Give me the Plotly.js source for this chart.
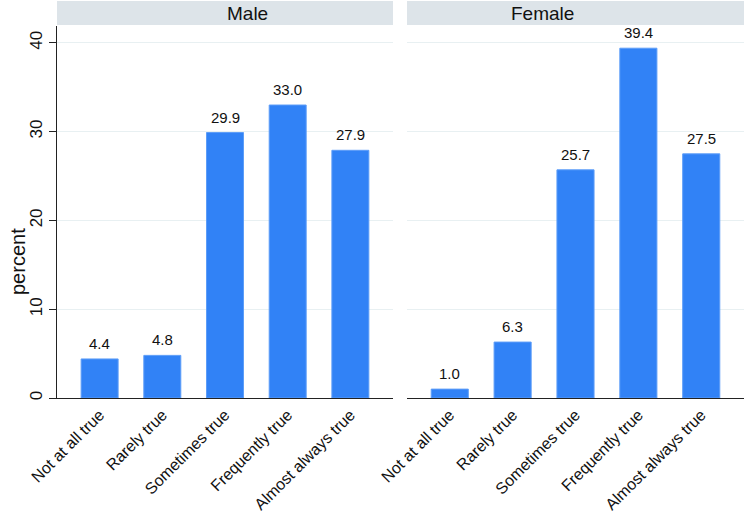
<!DOCTYPE html>
<html>
<head>
<meta charset="utf-8">
<script src="https://cdn.plot.ly/plotly-3.0.1.min.js"></script>
<style>
  html, body { margin: 0; padding: 0; background: #ffffff; }
  #chart { width: 747px; height: 514px; }
</style>
</head>
<body>
<div id="chart"></div>
<script>
// Response categories shared by both panels
const categories = ["Not at all true", "Rarely true", "Sometimes true", "Frequently true", "Almost always true"];
// Percent of respondents in each category
const maleValues = [4.4, 4.8, 29.9, 33.0, 27.9];
const femaleValues = [1.0, 6.3, 25.7, 39.4, 27.5];
const panelTitles = ["Male", "Female"];
const yTicks = [0, 10, 20, 30, 40];
const yTitle = "percent";

const FONT = "Liberation Sans, Arial, Helvetica, sans-serif";
const barColor = "#3182f6";
const barEdge = "#5d9df8";

function barTrace(values, xa, ya) {
  return {
    type: "bar",
    x: categories,
    y: values,
    xaxis: xa,
    yaxis: ya,
    width: 0.59,
    marker: { color: barColor, line: { color: barEdge, width: 1 } },
    hoverinfo: "x+y",
    showlegend: false
  };
}

// Value labels sit a little above each bar top
function valueLabels(values, xa, ya) {
  return values.map((v, i) => ({
    xref: xa, yref: ya,
    x: categories[i], y: v,
    text: v.toFixed(1),
    showarrow: false,
    yanchor: "bottom",
    yshift: 5,
    font: { family: FONT, size: 15, color: "#111111" }
  }));
}

const data = [
  barTrace(maleValues, "x", "y"),
  barTrace(femaleValues, "x2", "y2")
];

const leftDomain = [0, 336 / 687];
const rightDomain = [350 / 687, 1];
const yRange = [0, 41.9];
const xRange = [-0.68, 4.68];

const xCommon = {
  type: "category",
  range: xRange,
  tickangle: -45,
  tickfont: { family: FONT, size: 16, color: "#111111" },
  showline: true,
  linecolor: "#222222",
  linewidth: 1.3,
  ticks: "",
  showgrid: false,
  zeroline: false,
  fixedrange: true
};

const yCommon = {
  range: yRange,
  tickvals: yTicks,
  showgrid: true,
  gridcolor: "#e8f0f2",
  gridwidth: 1,
  zeroline: false,
  fixedrange: true
};

const headerTop = 1 + 25 / 372;
const headerMid = 1 + 13 / 372;

const layout = {
  width: 747,
  height: 514,
  margin: { l: 57, r: 3, t: 26, b: 116 },
  paper_bgcolor: "#ffffff",
  plot_bgcolor: "#ffffff",
  font: { family: FONT, color: "#111111" },
  xaxis: Object.assign({}, xCommon, { domain: leftDomain, anchor: "y" }),
  xaxis2: Object.assign({}, xCommon, { domain: rightDomain, anchor: "y2" }),
  yaxis: Object.assign({}, yCommon, {
    anchor: "x",
    showline: true,
    linecolor: "#222222",
    linewidth: 1.3,
    ticks: "outside",
    ticklen: 7,
    tickcolor: "#222222",
    tickangle: -90,
    tickfont: { family: FONT, size: 17, color: "#111111" }
  }),
  yaxis2: Object.assign({}, yCommon, {
    anchor: "x2",
    matches: "y",
    showline: false,
    showticklabels: false,
    ticks: ""
  }),
  shapes: [
    { type: "rect", xref: "paper", yref: "paper", x0: leftDomain[0], x1: leftDomain[1], y0: 1.003, y1: headerTop, fillcolor: "#dde4e9", line: { width: 0 }, layer: "below" },
    { type: "rect", xref: "paper", yref: "paper", x0: rightDomain[0], x1: rightDomain[1], y0: 1.003, y1: headerTop, fillcolor: "#dde4e9", line: { width: 0 }, layer: "below" }
  ],
  annotations: [
    { xref: "paper", yref: "paper", x: (leftDomain[0] + leftDomain[1]) / 2, y: headerMid, text: panelTitles[0], showarrow: false, yanchor: "middle", font: { family: FONT, size: 19, color: "#111111" } },
    { xref: "paper", yref: "paper", x: (rightDomain[0] + rightDomain[1]) / 2, y: headerMid, text: panelTitles[1], showarrow: false, yanchor: "middle", font: { family: FONT, size: 19, color: "#111111" } },
    // y-axis title, centred on the whole graph height
    { xref: "paper", yref: "paper", x: -39 / 687, y: 136 / 372, text: yTitle, textangle: -90, showarrow: false, xanchor: "center", yanchor: "middle", font: { family: FONT, size: 20, color: "#111111" } }
  ].concat(valueLabels(maleValues, "x", "y"), valueLabels(femaleValues, "x2", "y2"))
};

Plotly.newPlot("chart", data, layout, { displayModeBar: false, staticPlot: true });
</script>
</body>
</html>
